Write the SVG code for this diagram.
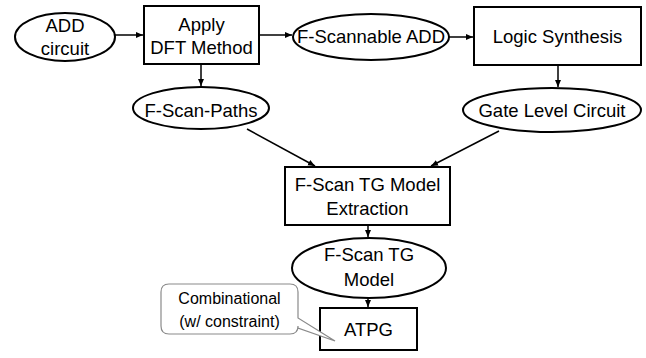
<svg xmlns="http://www.w3.org/2000/svg" width="646" height="358" viewBox="0 0 646 358">
<style>
.n{fill:#fff;stroke:#000;stroke-width:2}
.t{font-family:"Liberation Sans",Arial,sans-serif;font-size:18.5px;fill:#000;text-anchor:middle}
.s{font-family:"Liberation Sans",Arial,sans-serif;font-size:16px;fill:#000;text-anchor:middle}
.c{fill:none;stroke:#000;stroke-width:1.5;marker-end:url(#ah)}
</style>
<defs>
<marker id="ah" markerUnits="userSpaceOnUse" markerWidth="8" markerHeight="7" refX="7" refY="3" orient="auto">
<path d="M0,0 L7,3 L0,6 z" fill="#000"/>
</marker>
</defs>
<rect width="646" height="358" fill="#fff"/>
<g id="connectors">
<line class="c" x1="115" y1="35" x2="143" y2="35"/>
<line class="c" x1="259" y1="35" x2="292" y2="35"/>
<line class="c" x1="449" y1="37" x2="473" y2="37"/>
<line class="c" x1="201" y1="64" x2="201" y2="86"/>
<line class="c" x1="558" y1="65" x2="558" y2="87"/>
<line class="c" x1="247" y1="129" x2="315" y2="166"/>
<line class="c" x1="499" y1="131" x2="431" y2="166"/>
<line class="c" x1="368" y1="225" x2="368" y2="237"/>
<line class="c" x1="368" y1="298" x2="368" y2="307"/>
</g>
<g id="add-circuit">
<ellipse class="n" cx="65" cy="37" rx="50" ry="24"/>
<text class="t" x="65" y="32">ADD</text>
<text class="t" x="65" y="55">circuit</text>
</g>
<g id="apply-dft">
<rect class="n" x="144" y="6" width="115" height="58"/>
<text class="t" x="201.5" y="31">Apply</text>
<text class="t" x="201.5" y="54">DFT Method</text>
</g>
<g id="f-scannable-add">
<ellipse class="n" cx="371" cy="37" rx="78" ry="23"/>
<text class="t" x="371" y="43">F-Scannable ADD</text>
</g>
<g id="logic-synthesis">
<rect class="n" x="474" y="7" width="167" height="58"/>
<text class="t" x="557.5" y="43">Logic Synthesis</text>
</g>
<g id="f-scan-paths">
<ellipse class="n" cx="201" cy="108" rx="68" ry="21"/>
<text class="t" x="201" y="117">F-Scan-Paths</text>
</g>
<g id="gate-level-circuit">
<ellipse class="n" cx="552" cy="110" rx="89" ry="22"/>
<text class="t" x="552" y="117">Gate Level Circuit</text>
</g>
<g id="tg-model-extraction">
<rect class="n" x="285" y="167" width="165" height="58"/>
<text class="t" x="367.5" y="191">F-Scan TG Model</text>
<text class="t" x="367.5" y="215">Extraction</text>
</g>
<g id="tg-model">
<ellipse class="n" cx="369" cy="268" rx="77" ry="30"/>
<text class="t" x="369" y="261">F-Scan TG</text>
<text class="t" x="369" y="286">Model</text>
</g>
<g id="atpg">
<rect class="n" x="320" y="308" width="97" height="42"/>
<text class="t" x="368.5" y="336">ATPG</text>
</g>
<g id="callout">
<path d="M169,284 H290 Q298,284 298,292 V318 L335,341 L298,328 V326 Q298,334 290,334 H169 Q161,334 161,326 V292 Q161,284 169,284 Z" fill="#fff" stroke="#8a8a8a" stroke-width="1.2"/>
<text class="s" x="229.5" y="304">Combinational</text>
<text class="s" x="229.5" y="327">(w/ constraint)</text>
</g>
</svg>
